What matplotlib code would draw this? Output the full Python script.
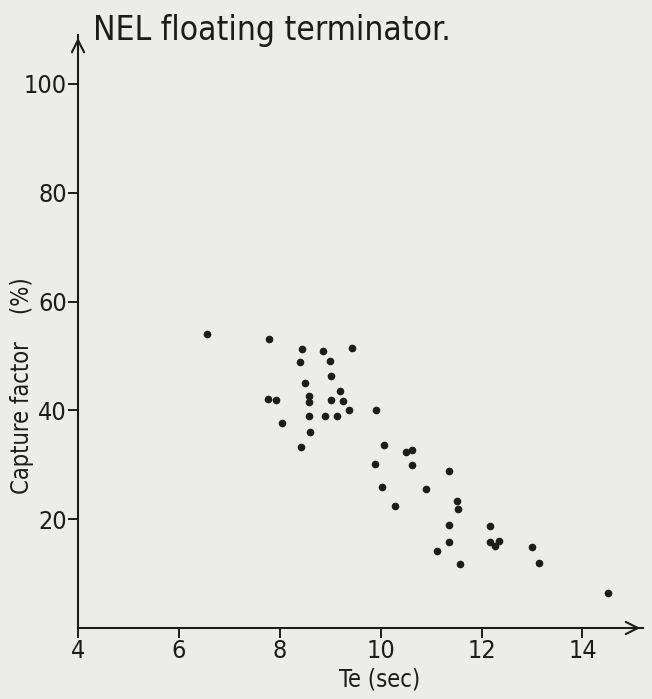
import matplotlib.pyplot as plt
import numpy as np

plt.rcParams['font.family'] = ['DejaVu Sans']
plt.rcParams['font.stretch'] = 'condensed'

# wave period Te (sec) and capture factor (%)
te = [6.55, 7.78, 8.45, 8.86, 9.43, 8.41, 8.99, 9.01, 8.49, 9.20,
      7.77, 7.93, 8.58, 8.57, 9.01, 9.25, 9.38, 9.90, 8.58, 8.90,
      9.14, 8.04, 8.60, 8.42, 10.06, 10.50, 10.63, 9.88, 10.62, 11.35,
      10.02, 10.89, 10.28, 11.52, 11.53, 11.35, 12.17, 11.36, 12.16, 12.26,
      12.34, 11.12, 12.99, 11.57, 13.13, 14.50]
capture = [54.1, 53.1, 51.3, 50.9, 51.5, 48.9, 49.1, 46.4, 45.1, 43.5,
           42.1, 42.0, 42.6, 41.5, 41.9, 41.8, 40.0, 40.0, 38.9, 39.0,
           39.0, 37.7, 36.0, 33.2, 33.7, 32.3, 32.7, 30.1, 30.0, 28.8,
           26.0, 25.6, 22.4, 23.3, 21.9, 18.9, 18.7, 15.8, 15.8, 15.1,
           16.0, 14.2, 14.8, 11.7, 12.0, 6.5]

xticks = [4, 6, 8, 10, 12, 14]
yticks = [20, 40, 60, 80, 100]

ink = '#1c1c1c'
paper = '#ececea'

fig = plt.figure(figsize=(6.52, 6.99), dpi=100, facecolor=paper)
ax = fig.add_axes([78/652, 71/699, 565/652, 593/699])
ax.set_facecolor(paper)

ax.plot(te, capture, 'o', color=ink, ms=4.5, mec=ink)

ax.set_xlim(4, 15.2)
ax.set_ylim(0, 109)
ax.set_xticks(xticks)
ax.set_yticks(yticks)
ax.tick_params(axis='both', direction='out', length=7, width=1.4, color=ink,
               labelcolor=ink, labelsize=18, pad=1)

for s in ['top', 'right']:
    ax.spines[s].set_visible(False)
for s in ['left', 'bottom']:
    ax.spines[s].set_color(ink)
    ax.spines[s].set_linewidth(1.5)

# open arrow heads at the ends of the axes
ax.annotate('', xy=(1.0, 0), xytext=(0.97, 0), xycoords='axes fraction',
            arrowprops=dict(arrowstyle='->', color=ink, lw=1.5,
                            mutation_scale=22), annotation_clip=False)
ax.annotate('', xy=(0, 1.0), xytext=(0, 0.97), xycoords='axes fraction',
            arrowprops=dict(arrowstyle='->', color=ink, lw=1.5,
                            mutation_scale=22), annotation_clip=False)

fig.text(93/652, 1 - 40/699, 'NEL floating terminator.', fontsize=24,
         color=ink, ha='left', va='baseline')
fig.text(380/652, 1 - 691/699, 'Te (sec)', fontsize=17, color=ink,
         ha='center', va='bottom')
fig.text(22/652, 1 - 386/699, 'Capture factor    (%)', fontsize=17,
         color=ink, rotation=90, ha='center', va='center')

plt.savefig('out.png', dpi=100, facecolor=paper)
